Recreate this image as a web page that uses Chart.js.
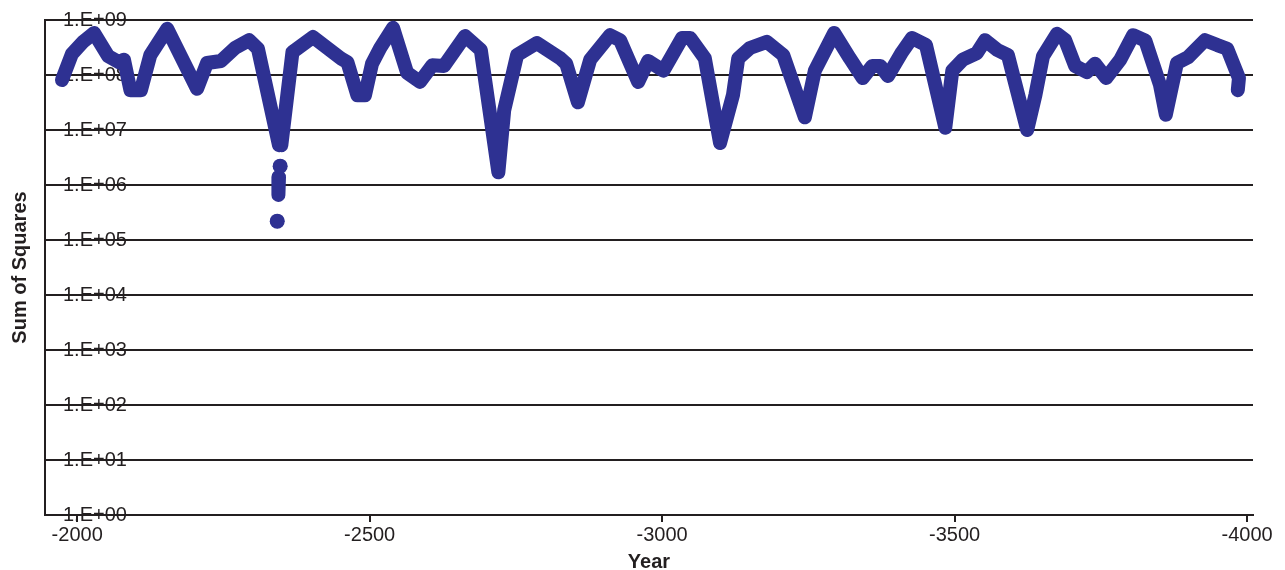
<!DOCTYPE html>
<html>
<head>
<meta charset="utf-8">
<script src="https://cdn.jsdelivr.net/npm/chart.js@4"></script>
<style>
  html, body { margin: 0; padding: 0; background: #ffffff; }
  #wrap { width: 1285px; height: 570px; position: relative; }
</style>
</head>
<body>
<div id="wrap"><canvas id="c"></canvas></div>
<script>
// Year (x) and Sum of Squares (y); null entries break the line
const years = [
  -1974, -1991, -2010, -2029, -2053, -2072, -2080, -2091, -2109, -2125,
  -2154, -2205, -2222, -2246, -2270, -2294, -2309, -2345,
  null, -2347, null, -2345, -2344, null, -2342, null,
  -2349, -2368, -2403, -2451, -2462, -2479, -2492, -2504, -2518, -2540,
  -2564, -2586, -2607, -2627, -2663, -2690, -2720, -2730, -2752, -2786,
  -2826, -2836, -2856, -2877, -2911, -2928, -2959, -2976, -3002, -3034,
  -3048, -3073, -3099, -3121, -3130, -3150, -3179, -3207, -3244, -3261,
  -3294, -3321, -3343, -3359, -3373, -3386, -3410, -3427, -3451, -3484,
  -3496, -3514, -3538, -3552, -3573, -3591, -3624, -3638, -3651, -3675,
  -3689, -3706, -3726, -3740, -3759, -3783, -3805, -3826, -3851, -3861,
  -3880, -3899, -3928, -3949, -3966, -3986, -3984
];
const sumSquares = [
  8.1e7, 2.4e8, 4.0e8, 5.8e8, 2.2e8, 1.7e8, 1.9e8, 5.3e7, 5.3e7, 2.3e8,
  6.9e8, 5.6e7, 1.65e8, 1.8e8, 3.1e8, 4.3e8, 3.0e8, 5.3e6,
  null, 2.2e6, null, 1.4e6, 6.6e5, null, 2.2e5, null,
  5.3e6, 2.6e8, 4.9e8, 2.0e8, 1.7e8, 4.3e7, 4.3e7, 1.6e8, 3.1e8, 7.2e8,
  1.1e8, 7.5e7, 1.5e8, 1.46e8, 5.1e8, 2.85e8, 1.7e6, 2.3e7, 2.3e8, 3.8e8,
  2.0e8, 1.6e8, 3.2e7, 1.9e8, 5.3e8, 4.3e8, 7.5e7, 1.8e8, 1.2e8, 4.7e8,
  4.7e8, 2.0e8, 5.8e6, 4.3e7, 2.0e8, 3.1e8, 4.0e8, 2.3e8, 1.7e7, 1.2e8,
  5.8e8, 2.0e8, 8.8e7, 1.46e8, 1.46e8, 9.6e7, 2.6e8, 4.7e8, 3.5e8, 1.1e7,
  1.2e8, 1.9e8, 2.5e8, 4.3e8, 2.85e8, 2.3e8, 1.0e7, 4.3e7, 2.2e8, 5.6e8,
  4.3e8, 1.46e8, 1.13e8, 1.6e8, 8.8e7, 1.9e8, 5.3e8, 4.2e8, 6.6e7, 1.9e7,
  1.65e8, 2.1e8, 4.3e8, 3.5e8, 3.0e8, 8.8e7, 5.3e7
];
const xTickValues = [-2000, -2500, -3000, -3500, -4000];
const xTickLabels = ['-2000', '-2500', '-3000', '-3500', '-4000'];
const yTickValues = [1e0, 1e1, 1e2, 1e3, 1e4, 1e5, 1e6, 1e7, 1e8, 1e9];
const yTickLabels = ['1.E+00', '1.E+01', '1.E+02', '1.E+03', '1.E+04', '1.E+05', '1.E+06', '1.E+07', '1.E+08', '1.E+09'];

const points = years.map((x, i) => ({ x: x, y: sumSquares[i] }));
// fill x of gap entries so parsing stays ordered
for (let i = 0; i < points.length; i++) {
  if (points[i].x === null) points[i].x = points[i - 1].x;
}
function isolated(i) {
  return sumSquares[i] != null && sumSquares[i - 1] == null && sumSquares[i + 1] == null;
}

const ink = '#231f20';
const lineColor = '#2e3192';
const font = { family: '"Liberation Sans", Arial, sans-serif', size: 20 };
const boldFont = { family: '"Liberation Sans", Arial, sans-serif', size: 20, weight: 'bold' };

new Chart(document.getElementById('c'), {
  type: 'line',
  data: {
    datasets: [{
      data: points,
      borderColor: lineColor,
      backgroundColor: lineColor,
      borderWidth: 14,
      borderJoinStyle: 'round',
      borderCapStyle: 'round',
      tension: 0,
      spanGaps: false,
      pointRadius: ctx => isolated(ctx.dataIndex) ? 7.5 : 0,
      pointBorderWidth: 0,
      pointHoverRadius: 0,
      clip: 12
    }]
  },
  options: {
    responsive: true,
    maintainAspectRatio: false,
    animation: false,
    events: [],
    layout: { padding: { top: 20, right: 32, bottom: 0, left: 0 } },
    plugins: { legend: { display: false }, tooltip: { enabled: false } },
    scales: {
      x: {
        type: 'linear',
        reverse: true,
        min: -4010,
        max: -1945,
        afterBuildTicks: s => { s.ticks = xTickValues.map(v => ({ value: v })); },
        afterFit: s => { s.height = 55; s.paddingLeft = 0; s.paddingRight = 0; },
        ticks: {
          color: ink,
          font: font,
          padding: 1,
          maxRotation: 0,
          autoSkip: false,
          callback: (v) => xTickLabels[xTickValues.indexOf(v)]
        },
        grid: { display: true, drawOnChartArea: false, drawTicks: true, tickLength: 7, color: ink, lineWidth: 2 },
        border: { display: true, color: ink, width: 2 },
        title: { display: true, text: 'Year', color: ink, font: boldFont, padding: { top: 0, bottom: -4 } }
      },
      y: {
        type: 'logarithmic',
        min: 1,
        max: 1e9,
        afterBuildTicks: s => { s.ticks = yTickValues.map(v => ({ value: v })); },
        afterFit: s => { s.width = 45; s.paddingTop = 0; s.paddingBottom = 0; },
        ticks: {
          mirror: true,
          padding: 18,
          color: ink,
          font: font,
          autoSkip: false,
          callback: (v) => yTickLabels[yTickValues.indexOf(v)]
        },
        grid: { display: true, drawOnChartArea: true, drawTicks: false, color: ink, lineWidth: 2 },
        border: { display: true, color: ink, width: 2 },
        title: { display: true, text: 'Sum of Squares', color: ink, font: boldFont, padding: { top: 8, bottom: 0 } }
      }
    }
  }
});
</script>
</body>
</html>
